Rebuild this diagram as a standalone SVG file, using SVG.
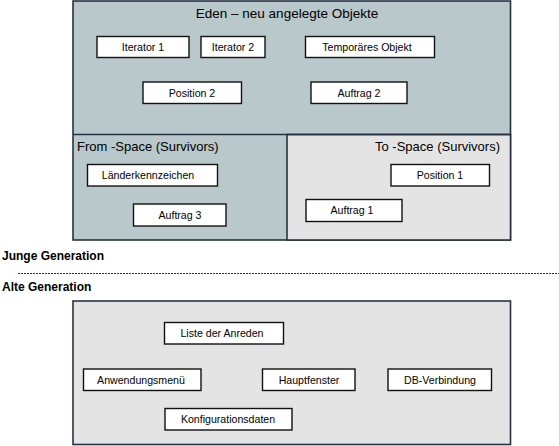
<svg xmlns="http://www.w3.org/2000/svg" width="559" height="446" viewBox="0 0 559 446">
<style>
.area{stroke:#263244;stroke-width:1.6}
.eden{fill:#b9c8cb}
.light{fill:#e4e4e4}
.box{fill:#ffffff;stroke:#111111;stroke-width:1.4}
.lbl{font-family:"Liberation Sans",Arial,sans-serif;font-size:10.6px;fill:#000;text-anchor:middle}
.title{font-family:"Liberation Sans",Arial,sans-serif;font-size:13px;fill:#000}
.gen{font-family:"Liberation Sans",Arial,sans-serif;font-size:12px;font-weight:bold;fill:#000}
</style>
<rect width="559" height="446" fill="#ffffff"/>
<g id="young">
<rect class="area eden" x="73" y="1" width="437.5" height="239"/>
<rect class="area light" x="287" y="134.5" width="223.5" height="105.5"/>
<line class="area" x1="73" y1="134.5" x2="510.5" y2="134.5"/>
<text class="title" x="287" y="18" text-anchor="middle" style="font-size:13.5px">Eden – neu angelegte Objekte</text>
<text class="title" x="77" y="151">From -Space (Survivors)</text>
<text class="title" x="500" y="151" text-anchor="end">To -Space (Survivors)</text>
</g>
<g id="n-iterator1"><rect class="box" x="97" y="36.5" width="92" height="21"/><text class="lbl" x="143" y="51">Iterator 1</text></g>
<g id="n-iterator2"><rect class="box" x="201" y="36.5" width="64" height="21"/><text class="lbl" x="233" y="51">Iterator 2</text></g>
<g id="n-temp"><rect class="box" x="305.5" y="36.5" width="129" height="21"/><text class="lbl" x="367" y="51">Temporäres Objekt</text></g>
<g id="n-position2"><rect class="box" x="143" y="82" width="98.5" height="21.5"/><text class="lbl" x="192" y="97">Position 2</text></g>
<g id="n-auftrag2"><rect class="box" x="311" y="82" width="96" height="21.5"/><text class="lbl" x="359" y="97">Auftrag 2</text></g>
<g id="n-laender"><rect class="box" x="87.5" y="164.5" width="130" height="21.5"/><text class="lbl" x="148" y="179">Länderkennzeichen</text></g>
<g id="n-auftrag3"><rect class="box" x="133.5" y="204" width="92.5" height="22"/><text class="lbl" x="180" y="219">Auftrag 3</text></g>
<g id="n-position1"><rect class="box" x="391" y="164.5" width="98.5" height="21.5"/><text class="lbl" x="440" y="179">Position 1</text></g>
<g id="n-auftrag1"><rect class="box" x="306" y="199.5" width="96" height="22"/><text class="lbl" x="352" y="214">Auftrag 1</text></g>
<g id="labels">
<text class="gen" x="2" y="260">Junge Generation</text>
<text class="gen" x="2" y="291">Alte Generation</text>
</g>
<g id="connectors">
<line x1="18" y1="273.5" x2="559" y2="273.5" stroke="#2a3040" stroke-width="1" stroke-dasharray="2 1"/>
</g>
<g id="old">
<rect class="area light" x="73" y="301" width="437.5" height="143.5"/>
</g>
<g id="n-liste"><rect class="box" x="164.5" y="322.5" width="119" height="21.5"/><text class="lbl" x="222" y="337">Liste der Anreden</text></g>
<g id="n-menu"><rect class="box" x="83.5" y="369" width="117.5" height="21.5"/><text class="lbl" x="141" y="384">Anwendungsmenü</text></g>
<g id="n-haupt"><rect class="box" x="262.5" y="369" width="92.5" height="21.5"/><text class="lbl" x="309" y="384">Hauptfenster</text></g>
<g id="n-db"><rect class="box" x="388" y="369" width="103.5" height="21.5"/><text class="lbl" x="440" y="384">DB-Verbindung</text></g>
<g id="n-konfig"><rect class="box" x="165" y="408.5" width="127" height="21.5"/><text class="lbl" x="228" y="423">Konfigurationsdaten</text></g>
</svg>
